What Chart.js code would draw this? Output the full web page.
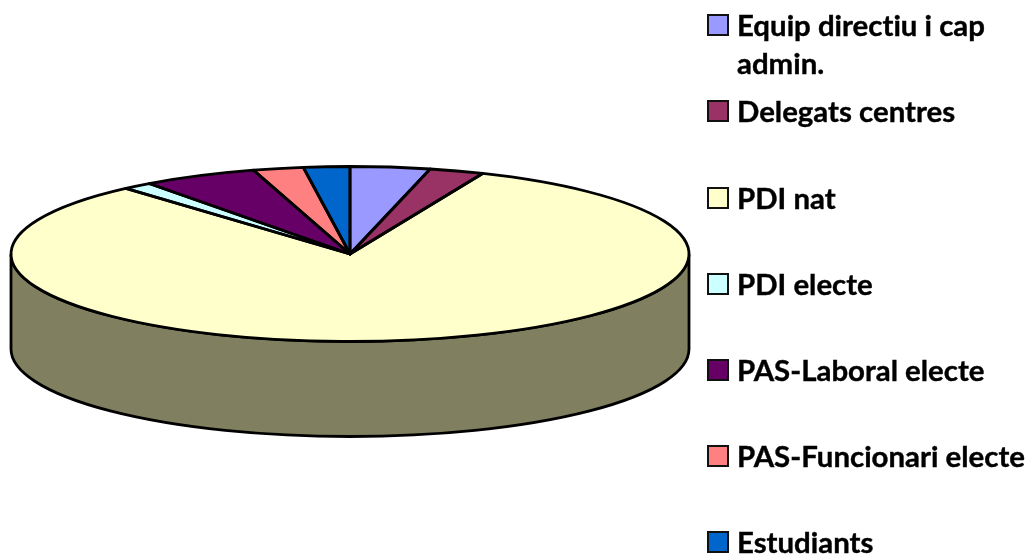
<!DOCTYPE html>
<html>
<head>
<meta charset="utf-8">
<script src="https://cdn.jsdelivr.net/npm/chart.js@4"></script>
<style>
  html, body { margin: 0; padding: 0; background: #fff; }
  #wrap { position: relative; width: 1030px; height: 555px; overflow: hidden; }
  #legend { position: absolute; left: 0; top: 0; }
  .item { position: absolute; left: 737px; font: bold 29.4px/38px Lato, sans-serif; font-variant-ligatures: none; -webkit-text-stroke: 0.4px #000; color: #000; white-space: nowrap; }
  .box { position: absolute; left: -30px; top: 8px; width: 18px; height: 18px; border: 2px solid #111; -webkit-text-stroke: 0; }
</style>
</head>
<body>
<div id="wrap">
  <canvas id="pieChart" width="1030" height="555"></canvas>
  <div id="legend"></div>
</div>
<script>
const labels = ['Equip directiu i cap admin.', 'Delegats centres', 'PDI nat', 'PDI electe', 'PAS-Laboral electe', 'PAS-Funcionari electe', 'Estudiants'];
const values = [3.8, 2.6, 82.1, 1.4, 5.5, 2.4, 2.2];
const colors = ['#9999FF', '#993366', '#FFFFCC', '#CCFFFF', '#660066', '#FF8080', '#0066CC'];
const legendLines = [['Equip directiu i cap', 'admin.'], ['Delegats centres'], ['PDI nat'], ['PDI electe'], ['PAS-Laboral electe'], ['PAS-Funcionari electe'], ['Estudiants']];
const legendTops = [6, 92, 179, 265, 351, 437, 523];

// squashes the flat pie into the tilted disc and adds the side wall
const RX = 339, RY = 87.5, DEPTH = 95, WALL = '#808060', EDGE = 2.8;
const tiltPlugin = {
    id: 'tilt',
    beforeDatasetsDraw(chart) {
        const ctx = chart.ctx;
        const arc = chart.getDatasetMeta(0).data[0];
        const cx = arc.x, cy = arc.y;
        ctx.save();
        ctx.beginPath();
        ctx.moveTo(cx - RX, cy);
        ctx.lineTo(cx - RX, cy + DEPTH);
        ctx.ellipse(cx, cy + DEPTH, RX, RY, 0, Math.PI, 0, true);
        ctx.lineTo(cx + RX, cy);
        ctx.ellipse(cx, cy, RX, RY, 0, 0, Math.PI, false);
        ctx.closePath();
        ctx.fillStyle = WALL;
        ctx.fill();
        ctx.lineWidth = EDGE;
        ctx.strokeStyle = '#000';
        ctx.stroke();
        ctx.restore();

        ctx.save();
        ctx.translate(cx, cy);
        ctx.scale(RX / arc.outerRadius, RY / arc.outerRadius);
        ctx.translate(-cx, -cy);
    },
    afterDatasetsDraw(chart) {
        const ctx = chart.ctx;
        ctx.restore();
        ctx.save();
        ctx.lineWidth = EDGE;
        ctx.strokeStyle = '#000';
        ctx.lineJoin = 'round';
        chart.getDatasetMeta(0).data.forEach(function (arc) {
            ctx.beginPath();
            ctx.moveTo(arc.x, arc.y);
            ctx.ellipse(arc.x, arc.y, RX, RY, 0, arc.startAngle, arc.endAngle, false);
            ctx.closePath();
            ctx.stroke();
        });
        ctx.restore();
    }
};

new Chart(document.getElementById('pieChart').getContext('2d'), {
    type: 'pie',
    data: {
        labels: labels,
        datasets: [{
            data: values,
            backgroundColor: colors,
            borderWidth: 0,
            clip: false
        }]
    },
    options: {
        responsive: false,
        animation: false,
        layout: { padding: { left: 0, top: 0, right: 330, bottom: 47 } },
        plugins: {
            legend: { display: false },
            tooltip: { enabled: false }
        }
    },
    plugins: [tiltPlugin]
});

// legend is plain html so the first label can wrap like the original
const legendEl = document.getElementById('legend');
legendLines.forEach(function (lines, i) {
    const item = document.createElement('div');
    item.className = 'item';
    item.style.top = legendTops[i] + 'px';
    const box = document.createElement('span');
    box.className = 'box';
    box.style.background = colors[i];
    item.appendChild(box);
    lines.forEach(function (line, j) {
        if (j > 0) item.appendChild(document.createElement('br'));
        item.appendChild(document.createTextNode(line));
    });
    legendEl.appendChild(item);
});
</script>
</body>
</html>
